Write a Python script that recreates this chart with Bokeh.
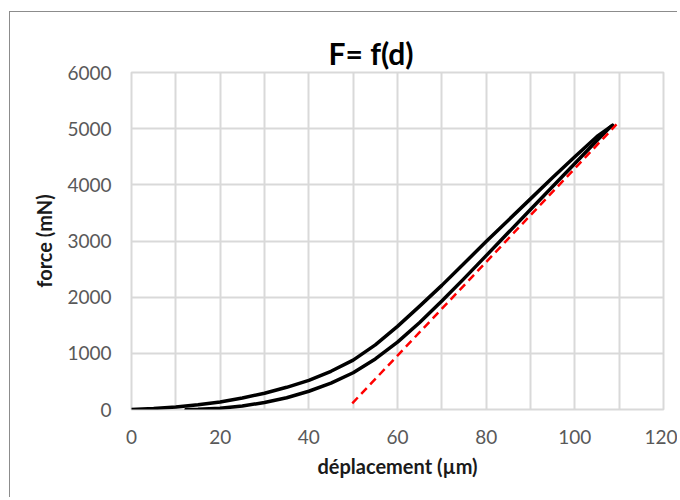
from bokeh.plotting import figure
from bokeh.models import FixedTicker
from bokeh.embed import file_html
from bokeh.resources import INLINE

# ---- data ----
load_d = [0, 5, 10, 15, 20, 25, 30, 35, 40, 45, 50, 55, 60, 65, 70, 75, 80, 85, 90, 95, 100, 105, 108.5]
load_F = [0, 18, 45, 85, 135, 205, 290, 395, 520, 680, 880, 1150, 1480, 1840, 2210, 2600, 2990, 3370, 3750, 4130, 4500, 4860, 5060]

unload_d = [12.3, 15, 20, 25, 30, 35, 40, 45, 50, 55, 60, 65, 70, 75, 80, 85, 90, 95, 100, 105, 107.6, 108.5]
unload_F = [0, 4, 22, 62, 125, 210, 325, 470, 655, 900, 1200, 1550, 1930, 2330, 2740, 3150, 3560, 3970, 4380, 4790, 5000, 5060]

tangent_d = [49.8, 109.4]
tangent_F = [110, 5075]

x_ticks = [0, 20, 40, 60, 80, 100, 120]
x_minor = [10, 30, 50, 70, 90, 110]
y_ticks = [0, 1000, 2000, 3000, 4000, 5000, 6000]

FONT = "Lato"
GRID = "#D9D9D9"

p = figure(width=668, height=486, output_backend="svg", toolbar_location=None,
           x_range=(0, 120), y_range=(0, 6000),
           min_border_left=121, min_border_right=15, min_border_top=60, min_border_bottom=89)
p.margin = (11, 0, 0, 9)
p.styles = {"border-left": "1px solid #8c8c8c", "border-top": "1px solid #8c8c8c"}

p.title.text = "F= f(d)"
p.title.text_font = FONT
p.title.text_font_size = "30px"
p.title.text_font_style = "bold"
p.title.text_color = "#000000"
p.title.align = "left"
p.title.offset = 197
p.title.standoff = 4

p.outline_line_color = GRID
p.outline_line_width = 2
p.background_fill_color = "white"
p.border_fill_color = "white"

p.xaxis.ticker = FixedTicker(ticks=x_ticks, minor_ticks=x_minor)
p.yaxis.ticker = FixedTicker(ticks=y_ticks)
for ax in (p.xaxis, p.yaxis):
    ax.axis_line_color = None
    ax.major_tick_line_color = None
    ax.minor_tick_line_color = None
    ax.major_tick_out = 0
    ax.major_tick_in = 0
    ax.major_label_text_font = FONT
    ax.major_label_text_font_size = "19px"
    ax.major_label_text_color = "#595959"
    ax.axis_label_text_font = FONT
    ax.axis_label_text_font_size = "20px"
    ax.axis_label_text_font_style = "bold"
    ax.axis_label_text_color = "#1a1a1a"

p.xaxis.axis_label = "déplacement (µm)"
p.yaxis.axis_label = "force (mN)"
p.xaxis.major_label_standoff = 16
p.yaxis.major_label_standoff = 20
p.xaxis.axis_label_standoff = 7
p.yaxis.axis_label_standoff = 8

p.xgrid.grid_line_color = GRID
p.xgrid.grid_line_width = 2
p.xgrid.minor_grid_line_color = GRID
p.xgrid.minor_grid_line_width = 2
p.ygrid.grid_line_color = GRID
p.ygrid.grid_line_width = 2

p.line(load_d, load_F, line_color="black", line_width=3.5, line_join="round", line_cap="round")
p.line(unload_d, unload_F, line_color="black", line_width=3.5, line_join="round", line_cap="round")
p.line(tangent_d, tangent_F, line_color="#FF0000", line_width=2.5, line_dash="8 5")

open("out.html", "w").write(file_html(p, INLINE))
